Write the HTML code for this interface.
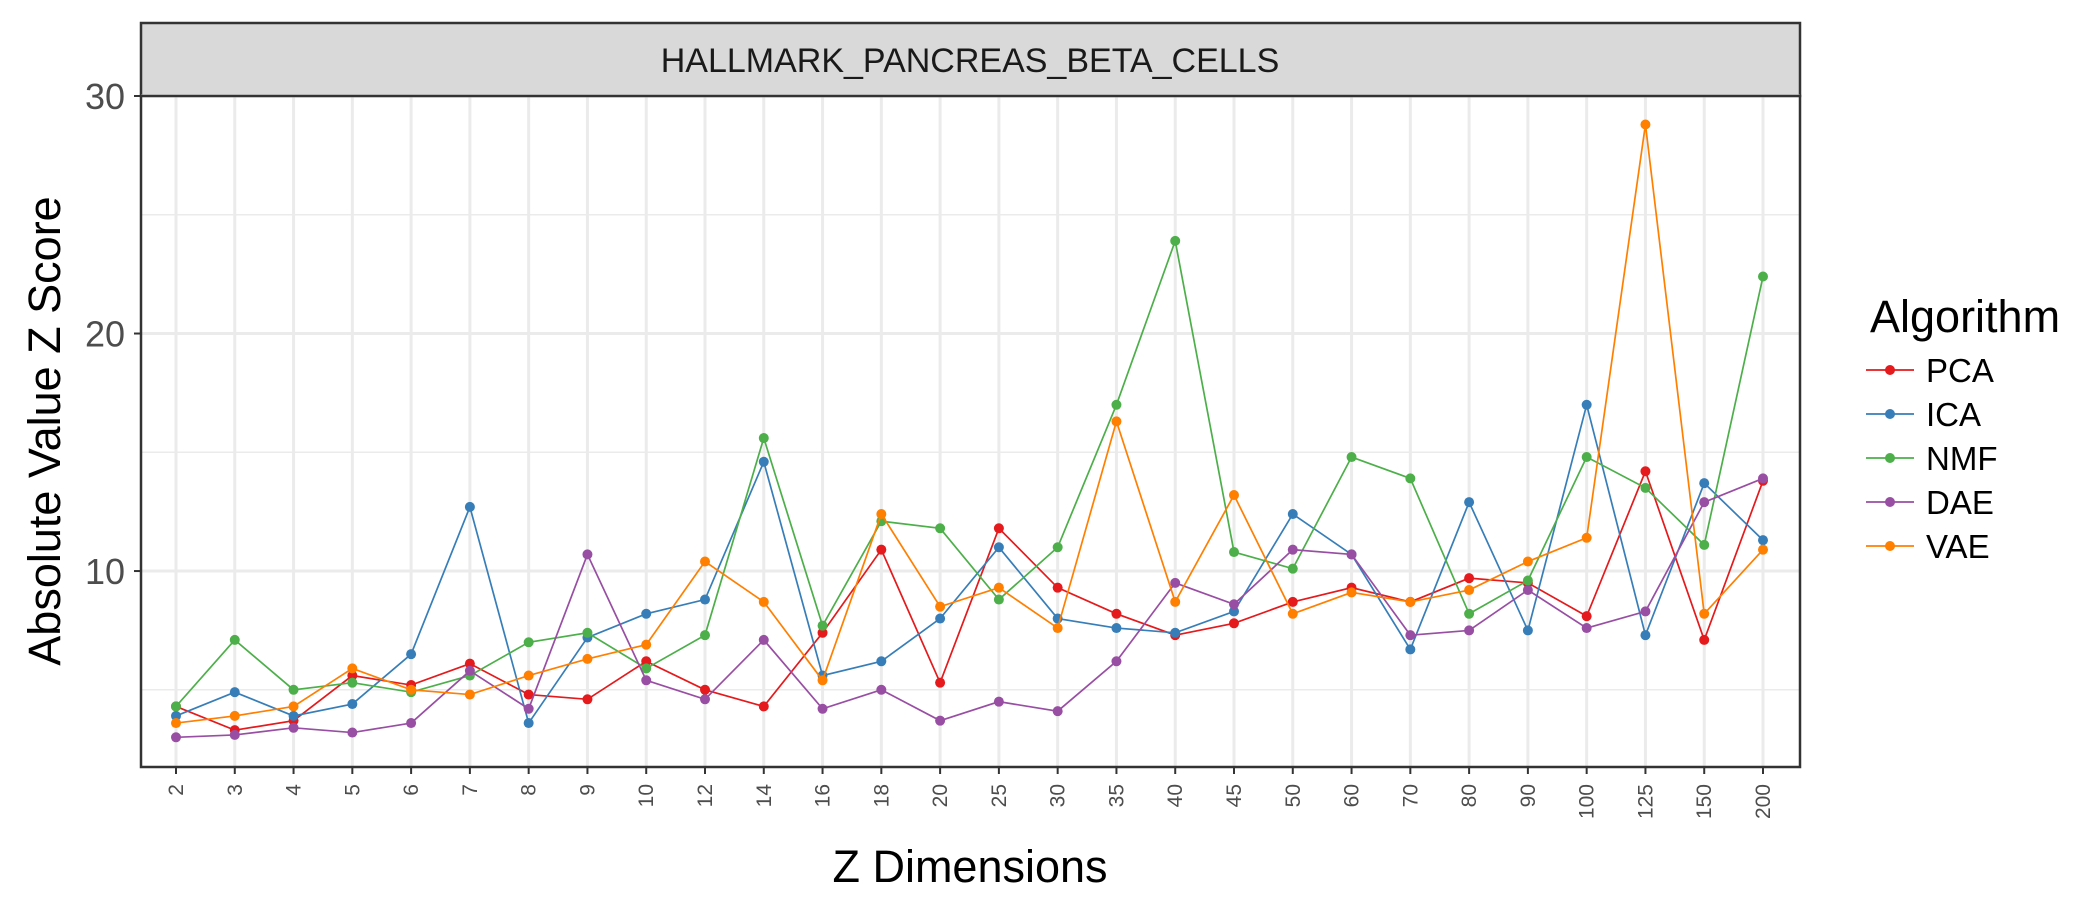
<!DOCTYPE html>
<html><head><meta charset="utf-8"><style>
html,body{margin:0;padding:0;background:#fff;}
svg{display:block;font-family:"Liberation Sans",sans-serif;}
</style></head><body>
<svg id="chart" width="2100" height="900" xmlns="http://www.w3.org/2000/svg">
<rect x="141" y="23" width="1659" height="73" fill="#d9d9d9" stroke="#333" stroke-width="2.5"/>
<text x="970" y="72" font-size="34" text-anchor="middle" fill="#1a1a1a">HALLMARK_PANCREAS_BETA_CELLS</text>
<g id="grid"></g>
<g id="series"></g>
<rect x="141" y="96" width="1659" height="671" fill="none" stroke="#333" stroke-width="2.5"/>
<g id="axes"></g>
<text x="970" y="882" font-size="45" text-anchor="middle" fill="#000">Z Dimensions</text>
<text transform="translate(60,431) rotate(-90)" font-size="45" text-anchor="middle" fill="#000">Absolute Value Z Score</text>
<text x="1870" y="332" font-size="45" fill="#000">Algorithm</text>
<g id="legend"></g>
</svg>
<script>
const categories=["2","3","4","5","6","7","8","9","10","12","14","16","18","20","25","30","35","40","45","50","60","70","80","90","100","125","150","200"];
const seriesNames=["PCA","ICA","NMF","DAE","VAE"];
const seriesColors=["#e41a1c","#377eb8","#4daf4a","#984ea3","#ff7f00"];
const pca=[4.3,3.3,3.7,5.6,5.2,6.1,4.8,4.6,6.2,5.0,4.3,7.4,10.9,5.3,11.8,9.3,8.2,7.3,7.8,8.7,9.3,8.7,9.7,9.5,8.1,14.2,7.1,13.8];
const ica=[3.9,4.9,3.9,4.4,6.5,12.7,3.6,7.2,8.2,8.8,14.6,5.6,6.2,8.0,11.0,8.0,7.6,7.4,8.3,12.4,10.7,6.7,12.9,7.5,17.0,7.3,13.7,11.3];
const nmf=[4.3,7.1,5.0,5.3,4.9,5.6,7.0,7.4,5.9,7.3,15.6,7.7,12.1,11.8,8.8,11.0,17.0,23.9,10.8,10.1,14.8,13.9,8.2,9.6,14.8,13.5,11.1,22.4];
const dae=[3.0,3.1,3.4,3.2,3.6,5.8,4.2,10.7,5.4,4.6,7.1,4.2,5.0,3.7,4.5,4.1,6.2,9.5,8.6,10.9,10.7,7.3,7.5,9.2,7.6,8.3,12.9,13.9];
const vae=[3.6,3.9,4.3,5.9,5.0,4.8,5.6,6.3,6.9,10.4,8.7,5.4,12.4,8.5,9.3,7.6,16.3,8.7,13.2,8.2,9.1,8.7,9.2,10.4,11.4,28.8,8.2,10.9];
const yMajor=[10,20,30];
const yMinor=[5,15,25];
const seriesData=[pca,ica,nmf,dae,vae];

const NS="http://www.w3.org/2000/svg";
const L=141,R=1800,T=96,B=767,yMin=1.75,yMax=30;
function xs(i){return 176+i*(1763-176)/(categories.length-1);}
function ys(v){return B-(v-yMin)/(yMax-yMin)*(B-T);}
function mk(tag,attrs,parent){const e=document.createElementNS(NS,tag);for(const k in attrs)e.setAttribute(k,attrs[k]);parent.appendChild(e);return e;}
const grid=document.getElementById('grid'),ser=document.getElementById('series'),ax=document.getElementById('axes'),leg=document.getElementById('legend');
mk('rect',{x:L,y:T,width:R-L,height:B-T,fill:'#fff'},grid);
yMinor.forEach(v=>{const l=mk('line',{x1:L,x2:R,y1:ys(v),y2:ys(v),stroke:'#ebebeb','stroke-width':1.5},grid);

});
yMajor.forEach(v=>{const l=mk('line',{x1:L,x2:R,y1:ys(v),y2:ys(v),stroke:'#ebebeb','stroke-width':3},grid);


const t=mk('line',{x1:L-7,x2:L,y1:ys(v),y2:ys(v),stroke:'#333','stroke-width':2},ax);


const tx=mk('text',{x:L-16,y:ys(v)+13,'font-size':36,'text-anchor':'end',fill:'#4d4d4d'},ax);tx.textContent=v;

});
categories.forEach((c,i)=>{const x=xs(i);
const g=mk('line',{x1:x,x2:x,y1:T,y2:B,stroke:'#ebebeb','stroke-width':3},grid);


const t=mk('line',{x1:x,x2:x,y1:B,y2:B+7,stroke:'#333','stroke-width':2},ax);


const tx=mk('text',{transform:`translate(${x+7},${B+17}) rotate(-90)`,'font-size':21,'text-anchor':'end',fill:'#4d4d4d'},ax);tx.textContent=c;

});
seriesData.forEach((d,s)=>{const col=seriesColors[s];
const p=mk('polyline',{points:d.map((v,i)=>xs(i)+','+ys(v)).join(' '),fill:'none',stroke:col,'stroke-width':1.7},ser);


d.forEach((v,i)=>{const c=mk('circle',{cx:xs(i),cy:ys(v),r:5,fill:col},ser);

});
const ly=370+s*44;
const g=mk('g',{},leg);


mk('line',{x1:1866,x2:1914,y1:ly,y2:ly,stroke:col,'stroke-width':1.7},g);
mk('circle',{cx:1890,cy:ly,r:5,fill:col},g);
const t=mk('text',{x:1926,y:ly+12,'font-size':33,fill:'#000'},g);t.textContent=seriesNames[s];});
</script>
</body></html>
